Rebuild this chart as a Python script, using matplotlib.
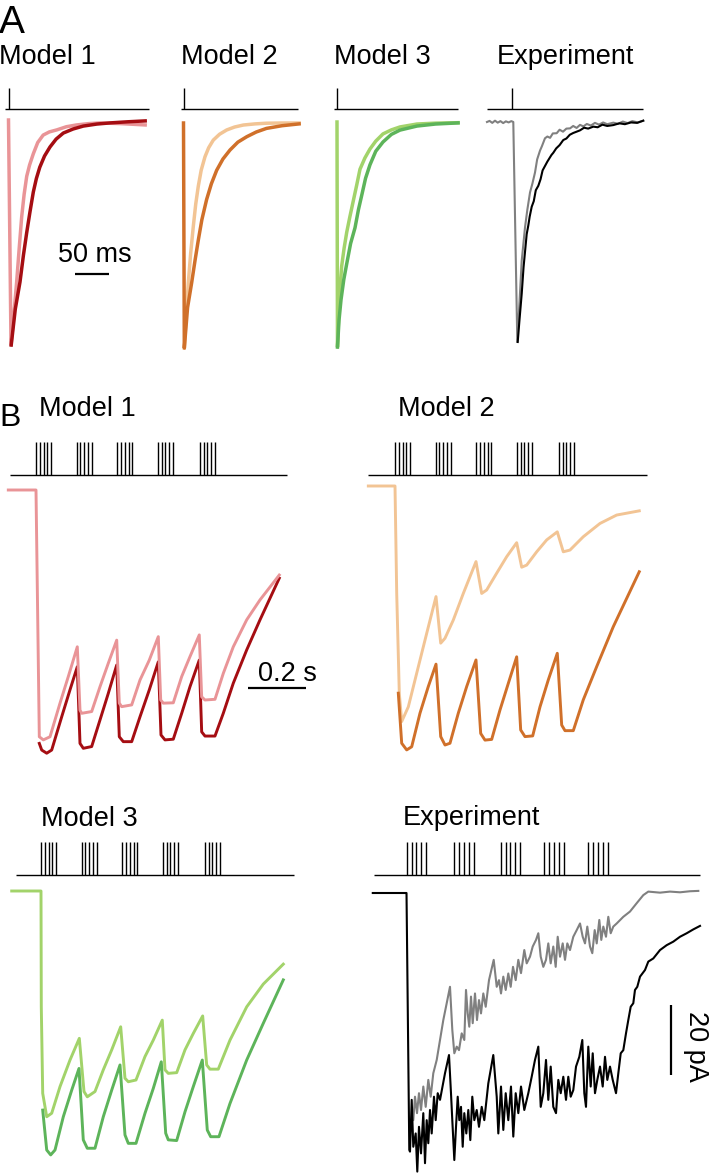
import numpy as np
import matplotlib
matplotlib.use('Agg')
import matplotlib.pyplot as plt

plt.rcParams['font.family'] = ['Liberation Sans', 'DejaVu Sans']

W, H = 709, 1174

# ---------------- A: single pulse, current normalised to peak (t in ms) ----------------
A1_LIGHT_T = [0, 3.7, 8, 12, 16, 19.4, 23, 26.8, 31, 36.5, 43, 51, 60, 71, 85, 100, 118, 135, 165, 201]
A1_LIGHT_I = [0, -1.0, -0.86, -0.72, -0.56, -0.43, -0.33, -0.25, -0.2, -0.15, -0.1, -0.067, -0.053, -0.044,
              -0.03, -0.022, -0.016, -0.013, -0.016, -0.022]
A1_DARK_T = [4, 10, 16.9, 22, 26.8, 31.5, 36.5, 41, 46, 53, 61, 70, 80.6, 95, 110, 130, 149, 175, 201]
A1_DARK_I = [-1.0, -0.84, -0.72, -0.6, -0.5, -0.41, -0.32, -0.26, -0.21, -0.16, -0.12, -0.085, -0.058,
             -0.04, -0.027, -0.018, -0.013, -0.008, -0.004]

A2_LIGHT_T = [1.2, 4, 7.1, 10.5, 14.4, 18, 21.8, 26, 31.6, 37, 43.8, 53, 63.5, 75, 88, 105, 122, 145, 170]
A2_LIGHT_I = [-1.0, -0.85, -0.71, -0.58, -0.46, -0.36, -0.28, -0.21, -0.15, -0.11, -0.076, -0.05, -0.031,
              -0.018, -0.009, -0.004, -0.001, 0, 0]
A2_DARK_T = [0, 1.2, 6, 12, 17, 21.8, 27, 34, 41, 48.8, 58, 68.4, 80, 93, 107, 122, 145, 170]
A2_DARK_I = [0, -1.0, -0.82, -0.71, -0.61, -0.52, -0.43, -0.34, -0.27, -0.21, -0.16, -0.12, -0.085,
             -0.061, -0.04, -0.024, -0.012, -0.004]

A3_LIGHT_T = [0, 0.7, 3.5, 6.9, 10.5, 14.3, 19, 24, 29, 33.8, 41, 48.5, 57, 67.6, 80, 92.6, 117.6, 145, 178]
A3_LIGHT_I = [0, -1.0, -0.78, -0.64, -0.56, -0.49, -0.42, -0.35, -0.28, -0.21, -0.16, -0.12, -0.085,
              -0.053, -0.035, -0.022, -0.009, -0.005, -0.003]
A3_DARK_T = [0.7, 3, 5.9, 10, 14.3, 20, 26.5, 31.5, 36.8, 42, 48.5, 57, 67.6, 80, 92.6, 117.6, 145, 178]
A3_DARK_I = [-1.0, -0.88, -0.79, -0.7, -0.63, -0.54, -0.47, -0.39, -0.32, -0.25, -0.19, -0.13, -0.089,
             -0.055, -0.036, -0.018, -0.009, -0.004]

AE_GRAY_T = [-36.8, -33, -29, -25, -21, -17, -13, -9, -5, -1, 1.9, 7.8, 10.7, 14.3, 19.1, 22.5, 26.5, 30,
             33.8, 37, 41.2, 44, 48.5, 52, 56, 60, 65.7, 70, 75, 80, 85.3, 90, 95, 100, 105, 110, 116,
             122, 128, 134, 140, 149, 156, 163, 170, 177, 185, 193]
AE_GRAY_I = [0.0, 0.005, -0.004, 0.006, -0.003, 0.004, -0.005, 0.003, -0.002, 0.004, 0.0, -1.0, -0.84,
             -0.63, -0.48, -0.4, -0.32, -0.28, -0.23, -0.17, -0.13, -0.11, -0.074, -0.066, -0.072, -0.052,
             -0.051, -0.035, -0.044, -0.03, -0.029, -0.018, -0.027, -0.013, -0.02, -0.009, -0.016, -0.004,
             -0.012, -0.002, -0.01, -0.003, -0.008, 0.002, -0.005, 0.004, -0.002, 0.006]
AE_BLACK_T = [8.4, 11, 14.3, 17, 21.6, 24, 26, 29, 32, 35, 38.7, 42, 45, 48.5, 52, 55, 58, 60.7, 65, 70,
              75.4, 80, 85, 90, 95, 100, 106, 112, 119.6, 126, 133, 140, 149, 158, 166, 175, 184, 193]
AE_BLACK_I = [-1.0, -0.9, -0.78, -0.66, -0.51, -0.47, -0.43, -0.385, -0.36, -0.31, -0.29, -0.26, -0.22,
              -0.2, -0.18, -0.165, -0.15, -0.14, -0.12, -0.105, -0.082, -0.075, -0.058, -0.05, -0.044,
              -0.038, -0.026, -0.03, -0.021, -0.024, -0.012, -0.018, -0.014, -0.006, -0.01, -0.002,
              -0.004, 0.006]

# ---------------- B: five bursts (t in ms, current in pA) ----------------
MODEL_BURSTS = [0, 140, 280, 420, 565]
MODEL_PULSES = [0, 13, 26, 39, 52]
EXP_BURSTS = [0, 149, 294, 430, 568]
EXP_PULSES = [0, 15, 30, 45, 60]

B1_LIGHT_T = [-95.5, 0, 11.4, 25.2, 48.3, 82.8, 111.4, 142.4, 151.7, 157.6, 192, 220.7, 249.3, 278.3,
              287.2, 295.5, 330, 358.6, 390.7, 421.7, 430, 439, 473.4, 502.4, 531, 563, 571.3, 582.7,
              617.2, 645.8, 680.3, 726.5, 772.4, 838.9]
B1_LIGHT_I = [0, 0, -70.5, -71.4, -70.5, -60.9, -53.3, -44.8, -62.9, -63.8, -63.3, -56.2, -49.5, -42.9,
              -60.9, -61.9, -61.4, -54.3, -48.6, -41.9, -60, -60.9, -60.8, -53.3, -47.6, -41.4, -59.1,
              -60, -59.8, -52.4, -44.8, -37.1, -31.4, -24.3]
B1_DARK_T = [11.4, 19.7, 36.9, 54.1, 88.6, 117.2, 142.4, 151.7, 163.1, 192, 220.7, 249.3, 278.3, 287.2,
             301, 330, 358.6, 390.7, 421.7, 431, 444.8, 473.4, 502.4, 531, 563, 571.3, 582.7, 617.2,
             645.8, 680.3, 726.5, 772.4, 838.9]
B1_DARK_I = [-72.4, -74.3, -75.2, -74.3, -64.8, -57.1, -50.5, -72.4, -73.8, -73.3, -65.7, -58.1, -50,
             -70.5, -71.9, -71.9, -64.8, -57.1, -49.1, -70, -71.4, -71.2, -63.8, -56.2, -48.6, -69.1,
             -70.3, -70.3, -63.8, -55.2, -45.7, -37.1, -25.2]

B2_LIGHT_T = [-92, 0, 5.9, 14.8, 23.1, 45.9, 74.8, 109.3, 141.4, 157.6, 172.4, 201, 235.5, 279.3, 298.9,
              316.2, 350.7, 385.1, 419.6, 436.9, 454.1, 488.6, 523.1, 559.6, 580.3, 603.4, 649.2, 706.8,
              764.3, 842.3]
B2_LIGHT_I = [0, 0, -30.7, -59.2, -67.3, -63.1, -53.5, -42.1, -31.6, -44.9, -43.5, -38.3, -30.7, -21.6,
              -30.7, -29.7, -24.9, -20.2, -16.2, -23.2, -22.6, -18.8, -15.4, -13.1, -18.8, -18.3, -14.5,
              -10.7, -8.3, -7.1]
B2_DARK_T = [11.4, 23.1, 40.3, 57.6, 86.2, 114.8, 141.4, 157.6, 172.4, 189.6, 218.3, 247.2, 279.3, 295.5,
             310.3, 333.4, 362, 390.7, 419.6, 433.4, 448.2, 474.8, 500, 528.6, 559.6, 574.8, 586.2, 614.8,
             649.2, 695.5, 752.7, 842.3]
B2_DARK_I = [-59.2, -73.5, -75.4, -74.5, -64.9, -57.3, -50.9, -71.6, -74, -73.5, -64.9, -57.3, -49.7,
             -70.7, -72.6, -72.4, -64, -56.4, -48.8, -69.7, -71.6, -71.4, -63.1, -55.4, -47.8, -68.3,
             -69.9, -69.9, -61.1, -51.6, -40.2, -24.5]

B3_LIGHT_T = [-101, 0, 1, 5.9, 19.7, 36.9, 65.5, 100, 132.1, 148.3, 159.6, 186.2, 214.8, 243.8, 274.8,
              289.6, 301, 327.6, 358.6, 387.2, 418.2, 427.6, 438.9, 467.9, 496.5, 525.1, 557.5, 571.3,
              582.7, 611.3, 651.7, 709.3, 766.5, 835.5]
B3_LIGHT_I = [0, 0, -33.1, -57.8, -64.5, -63.5, -55.9, -48.3, -42.1, -57.3, -58.8, -57.3, -51.1, -45.4,
              -38.8, -53.5, -54.5, -54, -47.3, -42.6, -36.9, -51.1, -52.1, -51.9, -45.4, -40.7, -35.7,
              -49.7, -50.9, -50.9, -42.6, -33.1, -26.6, -20.9]
B3_DARK_T = [5.9, 19.7, 33.4, 48.3, 76.9, 105.9, 131, 145.8, 159.6, 186.2, 214.8, 243.8, 272.4, 289.6,
             301, 327.6, 358.6, 387.2, 414.8, 430, 438.9, 467.9, 496.5, 525.1, 556.2, 573.4, 585.1,
             613.7, 651.7, 709.3, 766.5, 835.5]
B3_DARK_I = [-62.6, -74, -75.4, -74, -64.5, -56.9, -50.7, -71.1, -73.5, -73.5, -64.5, -56.9, -49.7,
             -69.7, -72.1, -72.1, -63.5, -56.4, -48.8, -69.2, -71.1, -71.3, -63.1, -55.9, -48.3, -68.3,
             -70.2, -70.2, -60.7, -48.3, -37.8, -25.4]

BE_BLACK_T = [-106, -5, -0.6, 8.1, 10.3, 15.6, 20.6, 28.1, 33.1, 38.4, 44.7, 51.9, 57.2, 62.5, 67.5,
              72.8, 78.1, 85.3, 90.6, 96.9, 104.1, 119.7, 132.2, 138.4, 142.5, 148.8, 154.1, 159.4,
              164.4, 169.7, 175, 180, 186.3, 192.5, 198.8, 205, 211.3, 218.8, 225.9, 234.4, 242.5, 255,
              270.6, 281.3, 286.3, 294.7, 301.9, 309.4, 317.5, 325.9, 333.1, 340.6, 348.8, 357.2, 367.5,
              380, 390.6, 400.9, 411.3, 418.8, 426.9, 435.3, 442.5, 450, 458.1, 466.6, 473.8, 481.3,
              489.4, 497.8, 505, 512.5, 520.6, 529.1, 539.4, 548.8, 555, 560.3, 567.5, 575, 581.3,
              588.4, 595.6, 604.1, 612.5, 619.7, 626.9, 635.3, 643.8, 654.1, 661.3, 668.8, 676.9,
              685.3, 692.5, 700, 708.1, 713.4, 720.6, 729.1, 744.7, 755, 770.6, 791.6, 812.5, 833.1,
              854.1, 875, 895.6, 916.6]
BE_BLACK_I = [0, 0, 0, -73.4, -73.9, -59.1, -72.5, -68.7, -79.6, -66.8, -74.4, -62.9, -77.2, -64.9,
              -71.5, -62, -68.7, -58.2, -64.9, -57.2, -59.1, -51.5, -46.3, -57.2, -64.9, -76.3, -66.8,
              -58.2, -64.9, -61.1, -72.5, -62.9, -68.7, -62, -70.6, -58.2, -64.9, -62, -66.8, -61.1,
              -64.9, -54.4, -46.3, -58.2, -68.7, -55.3, -67.7, -57.2, -64.9, -55.3, -69.6, -57.2, -62.9,
              -55.3, -62, -57.2, -52.5, -47.7, -43.9, -61.1, -57.2, -47.7, -59.1, -49.6, -61.1, -62.9,
              -53.4, -57.2, -52.5, -59.1, -52.5, -58.2, -56.3, -49.6, -46.8, -42, -57.2, -61.1, -43.9,
              -55.3, -45.8, -57.2, -53.4, -49.6, -55.3, -46.8, -53.4, -49.6, -53.4, -57.2, -51.5, -45.8,
              -44.9, -40.1, -36.3, -32.5, -31.5, -27.7, -26.8, -23.9, -22, -19.6, -18.7, -16.3, -14.9,
              -13.9, -12.5, -11.5, -10.4, -9.4]
BE_GRAY_T = [11.9, 20.6, 25.9, 32.2, 38.4, 44.7, 51.9, 59.4, 67.5, 75, 83.1, 93.8, 104.1, 114.4, 125,
             135.3, 142.5, 148.8, 156.3, 163.4, 171.9, 180, 185.3, 190.6, 195.6, 200.9, 206.3, 213.4,
             219.7, 225.9, 232.2, 239.4, 246.9, 257.2, 271.9, 281.3, 288.4, 294.7, 301.9, 309.4, 317.5,
             325, 332.2, 340.6, 348.8, 357.2, 367.5, 375, 385.3, 393.8, 404.1, 411.3, 418.8, 426.9,
             435.3, 442.5, 450, 458.1, 465.6, 471.9, 479.1, 487.5, 494.7, 501.9, 510.3, 520.6, 531.3,
             541.6, 550, 557.2, 564.4, 572.8, 580, 587.5, 593.8, 601.9, 608.1, 614.4, 622.8, 630,
             637.5, 645.6, 656.3, 676.9, 697.8, 718.8, 739.4, 755, 791.6, 822.8, 854.1, 885.3, 911.3]
BE_GRAY_I = [-64.9, -64.9, -58.2, -62.9, -57.2, -62, -55.3, -61.1, -53.4, -58.2, -51.5, -47.7, -42,
             -36.3, -31.5, -26.8, -39.1, -45.8, -43.9, -44.9, -40.1, -42, -27.7, -34.4, -38.2, -29.6,
             -37.2, -28.7, -36.3, -30.6, -34.4, -28.7, -32.5, -24.9, -19.1, -26.8, -24.9, -28.7, -23.9,
             -27.7, -23, -26.8, -21.1, -24.9, -19.1, -22.9, -16.3, -20.1, -18.2, -15.3, -13.4, -11.5,
             -18.2, -21.1, -19.1, -14.4, -20.1, -15.3, -21.1, -12.5, -18.2, -14.4, -19.1, -14.4, -16.3,
             -12.5, -10.6, -8.7, -12.5, -14.4, -9.6, -15.3, -17.2, -10.6, -14.4, -7.7, -13.4, -9.6,
             -12.5, -6.8, -11.5, -9.6, -8.7, -6.8, -5.3, -2.9, -0.6, 0.4, 0.1, 0.4, 0.2, 0.5, 0.6]

# colours
PINK, DARKRED = '#e99497', '#a50d12'
PEACH, ORANGE = '#f2c494', '#d0702a'
LGREEN, GREEN = '#a2d36a', '#5db45a'

fig = plt.figure(figsize=(W / 100, H / 100), dpi=100)


def add_panel(left, top, right, bottom, ox, oy, sx, sy):
    # axes placed in pixels; (ox, oy) = pixel of t=0 / I=0, sx px per ms, sy px per unit current
    ax = fig.add_axes([left / W, 1 - bottom / H, (right - left) / W, (bottom - top) / H])
    ax.set_xlim((left - ox) / sx, (right - ox) / sx)
    ax.set_ylim((oy - bottom) / sy, (oy - top) / sy)
    ax.axis('off')
    ax.oy, ax.sy = oy, sy
    return ax


def stim(ax, t0, t1, times, base_px, top_px):
    yb = (ax.oy - base_px) / ax.sy
    yt = (ax.oy - top_px) / ax.sy
    ax.plot([t0, t1], [yb, yb], color='k', lw=1.0, solid_capstyle='butt')
    ax.vlines(times, yb, yt, color='k', lw=1.0)


def pulses(bursts, offsets):
    return [b + p for b in bursts for p in offsets]


# ---------- A ----------
lwA = 2.5
ax = add_panel(0, 80, 170, 360, 8.5, 120, 0.68, 225)
stim(ax, -5.1, 206.6, [0], 109, 88)
ax.plot(A1_LIGHT_T, A1_LIGHT_I, color=PINK, lw=lwA)
ax.plot(A1_DARK_T, A1_DARK_I, color=DARKRED, lw=lwA)
yb = (ax.oy - 274) / ax.sy
ax.plot([97.8, 147.8], [yb, yb], color='k', lw=1.6, solid_capstyle='butt')

ax = add_panel(170, 80, 325, 360, 183.5, 123, 0.68, 225)
stim(ax, -3.7, 168.4, [0], 109, 88)
ax.plot(A2_LIGHT_T, A2_LIGHT_I, color=PEACH, lw=lwA)
ax.plot(A2_DARK_T, A2_DARK_I, color=ORANGE, lw=lwA)

ax = add_panel(325, 80, 480, 360, 337, 122, 0.68, 225)
stim(ax, -4.4, 178, [0], 109, 88)
ax.plot(A3_LIGHT_T, A3_LIGHT_I, color=LGREEN, lw=lwA)
ax.plot(A3_DARK_T, A3_DARK_I, color=GREEN, lw=lwA)

ax = add_panel(480, 80, 660, 360, 512, 122, 0.68, 220)
stim(ax, -36.8, 192.6, [0], 109, 88)
ax.plot(AE_GRAY_T, AE_GRAY_I, color='#808080', lw=1.5)
ax.plot(AE_BLACK_T, AE_BLACK_I, color='k', lw=1.5)

# ---------- B ----------
lwB = 2.1
mp = pulses(MODEL_BURSTS, MODEL_PULSES)

ax = add_panel(0, 430, 340, 770, 36, 490, 0.29, 3.5)
stim(ax, -89.7, 865.4, mp, 475, 442)
ax.plot(B1_DARK_T, B1_DARK_I, color=DARKRED, lw=lwB)
ax.plot(B1_LIGHT_T, B1_LIGHT_I, color=PINK, lw=lwB)
yb = (ax.oy - 688) / ax.sy
ax.plot([731, 931], [yb, yb], color='k', lw=1.6, solid_capstyle='butt')

ax = add_panel(355, 430, 709, 770, 395, 486, 0.29, 3.5)
stim(ax, -93.1, 868.9, mp, 475, 442)
ax.plot(B2_LIGHT_T, B2_LIGHT_I, color=PEACH, lw=lwB)
ax.plot(B2_DARK_T, B2_DARK_I, color=ORANGE, lw=lwB)

ax = add_panel(0, 830, 340, 1174, 41, 891, 0.29, 3.5)
stim(ax, -86.2, 872.3, mp, 875, 842)
ax.plot(B3_LIGHT_T, B3_LIGHT_I, color=LGREEN, lw=lwB)
ax.plot(B3_DARK_T, B3_DARK_I, color=GREEN, lw=lwB)

ax = add_panel(355, 830, 709, 1174, 406.7, 893, 0.32, 3.5)
stim(ax, -102.2, 916.6, pulses(EXP_BURSTS, EXP_PULSES), 875, 842)
ax.plot(BE_GRAY_T, BE_GRAY_I, color='#808080', lw=1.5)
ax.plot(BE_BLACK_T, BE_BLACK_I, color='k', lw=1.5)
ax.plot([826, 826], [-32, -52], color='k', lw=1.6, solid_capstyle='butt')

# ---------- text ----------
fs = 19.5


def label(x, y, s, size=fs, **kw):
    fig.text(x / W, 1 - y / H, s, fontsize=size, va='baseline', ha='left', **kw)


label(-1, 33, 'A', size=28)
label(-1, 64, 'Model 1')
label(181, 64, 'Model 2')
label(334, 64, 'Model 3')
label(497, 64, 'Experiment')
label(58, 262, '50 ms')
label(-1, 426, 'B', size=23)
label(39, 416, 'Model 1')
label(398, 416, 'Model 2')
label(41, 826, 'Model 3')
label(403, 825, 'Experiment')
label(258, 681, '0.2 s')
fig.text(696 / W, 1 - 1046 / H, '20 pA', fontsize=fs, rotation=270, ha='center', va='center')

fig.savefig('out.png', dpi=100)
